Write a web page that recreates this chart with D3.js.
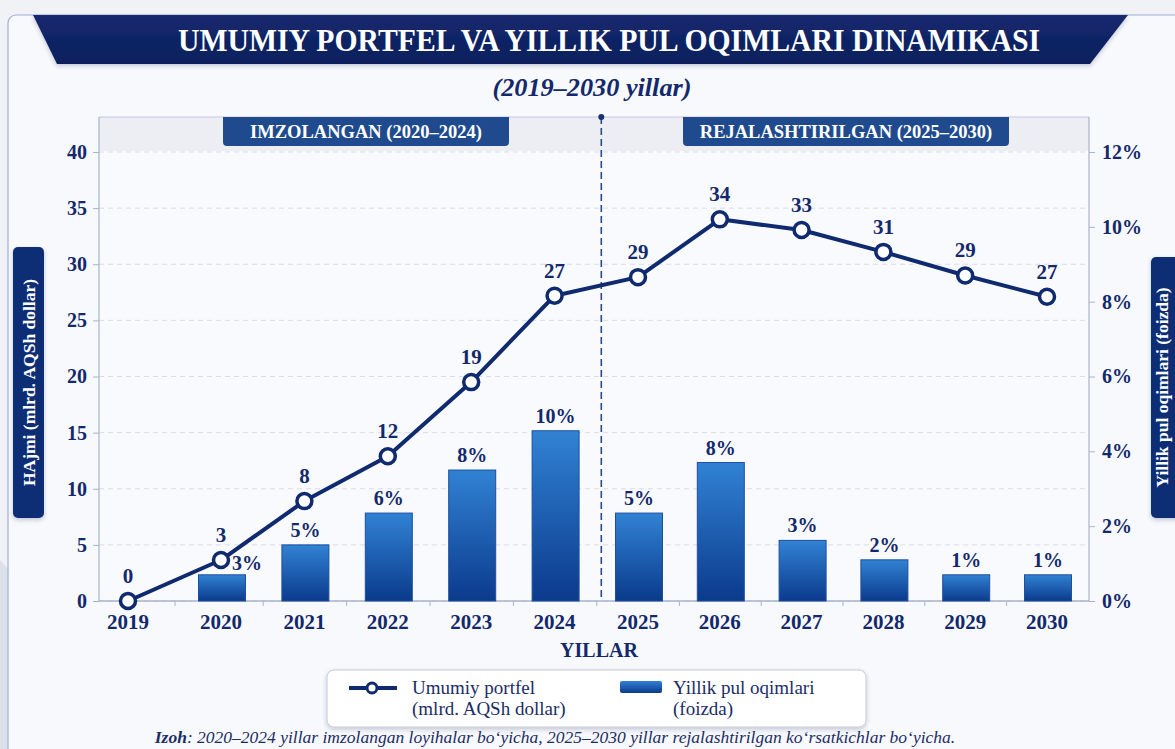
<!DOCTYPE html>
<html>
<head>
<meta charset="utf-8">
<script src="https://cdn.jsdelivr.net/npm/d3@7"></script>
<style>
  body { margin: 0; background: #f2f3f7; }
  svg { display: block; }
</style>
</head>
<body>
<div id="chart"></div>
<script>
// data
var years = [2019, 2020, 2021, 2022, 2023, 2024, 2025, 2026, 2027, 2028, 2029, 2030];
var portfolio = [0, 3.65, 8.9, 12.9, 19.5, 27.2, 28.85, 34.0, 33.05, 31.1, 29.0, 27.1];
var portfolioLabels = ["0", "3", "8", "12", "19", "27", "29", "34", "33", "31", "29", "27"];

var flowYears = [2020, 2021, 2022, 2023, 2024, 2025, 2026, 2027, 2028, 2029, 2030];
var flows = [0.7, 1.5, 2.35, 3.5, 4.55, 2.35, 3.7, 1.62, 1.1, 0.7, 0.7];
var flowLabels = ["3%", "5%", "6%", "8%", "10%", "5%", "8%", "3%", "2%", "1%", "1%"];

var leftTicks = [0, 5, 10, 15, 20, 25, 30, 35, 40];
var rightTicks = [0, 2, 4, 6, 8, 10, 12];

var svgWidth = 1175;
var svgHeight = 749;
var serif = "'Liberation Serif', 'Times New Roman', serif";
var navy = "#13296b";

var plot = { left: 99, right: 1089, top: 117, bottom: 601 };

var svg = d3.select("#chart")
    .append("svg")
    .attr("width", svgWidth)
    .attr("height", svgHeight)
    .style("font-family", serif);

var defs = svg.append("defs");

var barGrad = defs.append("linearGradient")
    .attr("id", "barGrad")
    .attr("x1", 0).attr("y1", 0).attr("x2", 0).attr("y2", 1);
barGrad.append("stop").attr("offset", "0%").attr("stop-color", "#3182d4");
barGrad.append("stop").attr("offset", "100%").attr("stop-color", "#0b3a8c");

var bannerGrad = defs.append("linearGradient")
    .attr("id", "bannerGrad")
    .attr("x1", 0).attr("y1", 0).attr("x2", 0).attr("y2", 1);
bannerGrad.append("stop").attr("offset", "0%").attr("stop-color", "#15296e");
bannerGrad.append("stop").attr("offset", "100%").attr("stop-color", "#0c1f5c");

var shadow = defs.append("filter").attr("id", "shadow")
    .attr("x", "-10%").attr("y", "-20%").attr("width", "120%").attr("height", "160%");
shadow.append("feDropShadow")
    .attr("dx", 0).attr("dy", 2).attr("stdDeviation", 2)
    .attr("flood-color", "#203060").attr("flood-opacity", 0.25);

// background decoration
svg.append("rect")
    .attr("width", svgWidth).attr("height", svgHeight)
    .attr("fill", "#f1f2f6");
svg.append("path")
    .attr("d", "M0,560 L170,749 L0,749 Z")
    .attr("fill", "#dde1ea");
svg.append("path")
    .attr("d", "M1175,600 L1040,749 L1175,749 Z")
    .attr("fill", "#dfe3eb");

// card
svg.append("rect")
    .attr("x", 8).attr("y", 15)
    .attr("width", 1190).attr("height", 780)
    .attr("rx", 8)
    .attr("fill", "#f8f9fc")
    .attr("stroke", "#9fb0d2")
    .attr("stroke-width", 1.2);

// title banner
svg.append("path")
    .attr("d", "M33,15 L1128,15 L1090,64 L57,64 Z")
    .attr("fill", "url(#bannerGrad)")
    .attr("filter", "url(#shadow)");

svg.append("text")
    .attr("x", 609).attr("y", 51)
    .attr("text-anchor", "middle")
    .attr("fill", "#ffffff")
    .attr("font-size", 31)
    .attr("font-weight", "bold")
    .attr("textLength", 862)
    .attr("lengthAdjust", "spacingAndGlyphs")
    .text("UMUMIY PORTFEL VA YILLIK PUL OQIMLARI DINAMIKASI");

svg.append("text")
    .attr("x", 592).attr("y", 96)
    .attr("text-anchor", "middle")
    .attr("fill", navy)
    .attr("font-size", 26)
    .attr("font-weight", "bold")
    .attr("font-style", "italic")
    .attr("textLength", 199)
    .attr("lengthAdjust", "spacingAndGlyphs")
    .text("(2019–2030 yillar)");

// scales
var x = d3.scaleLinear()
    .domain([2019, 2020, 2025, 2030])
    .range([128, 221, 638, 1047]);

var yLeft = d3.scaleLinear().domain([0, 40]).range([plot.bottom, 152]);
var yRight = d3.scaleLinear().domain([0, 12]).range([plot.bottom, 152]);

// plot background + header band
svg.append("rect")
    .attr("x", plot.left).attr("y", plot.top)
    .attr("width", plot.right - plot.left).attr("height", plot.bottom - plot.top)
    .attr("fill", "#f9fafd");
svg.append("rect")
    .attr("x", plot.left).attr("y", plot.top)
    .attr("width", plot.right - plot.left).attr("height", 34)
    .attr("fill", "#eceef4");
svg.append("line")
    .attr("x1", plot.left).attr("x2", plot.right)
    .attr("y1", plot.top).attr("y2", plot.top)
    .attr("stroke", "#c3cadb").attr("stroke-width", 1.2);

// grid
svg.append("g")
    .selectAll("line")
    .data(leftTicks)
    .enter()
    .append("line")
    .attr("x1", plot.left).attr("x2", plot.right)
    .attr("y1", d => yLeft(d)).attr("y2", d => yLeft(d))
    .attr("stroke", "#d9dde7")
    .attr("stroke-dasharray", "5,4")
    .attr("stroke-width", 1);

// section badges
var badges = [
    { text: "IMZOLANGAN (2020–2024)", x0: 223, x1: 509 },
    { text: "REJALASHTIRILGAN (2025–2030)", x0: 683, x1: 1009 }
];
badges.forEach(b => {
    svg.append("path")
        .attr("d", `M${b.x0},${plot.top} L${b.x1},${plot.top} L${b.x1},${plot.top + 25} Q${b.x1},${plot.top + 29} ${b.x1 - 4},${plot.top + 29} L${b.x0 + 4},${plot.top + 29} Q${b.x0},${plot.top + 29} ${b.x0},${plot.top + 25} Z`)
        .attr("fill", "#1f4b8e");
    svg.append("text")
        .attr("x", (b.x0 + b.x1) / 2).attr("y", plot.top + 21)
        .attr("text-anchor", "middle")
        .attr("fill", "#fff")
        .attr("font-size", 18.5)
        .attr("font-weight", "bold")
        .text(b.text);
});

// divider between signed and planned
var divX = x(2024.5) + 5;
svg.append("line")
    .attr("x1", divX).attr("x2", divX)
    .attr("y1", plot.top).attr("y2", plot.bottom)
    .attr("stroke", "#2a4a8c")
    .attr("stroke-width", 1.6)
    .attr("stroke-dasharray", "7,4");
svg.append("circle")
    .attr("cx", divX).attr("cy", plot.top).attr("r", 3)
    .attr("fill", "#1b3272");

// axes
var leftAxis = d3.axisLeft(yLeft).tickValues(leftTicks).tickSize(6).tickPadding(6);
var rightAxis = d3.axisRight(yRight).tickValues(rightTicks).tickSize(6).tickPadding(7)
    .tickFormat(d => d + "%");

var gl = svg.append("g")
    .attr("transform", `translate(${plot.left},0)`)
    .call(leftAxis);
var gr = svg.append("g")
    .attr("transform", `translate(${plot.right},0)`)
    .call(rightAxis);

[gl, gr].forEach(g => {
    g.select(".domain").remove();
    g.selectAll(".tick line").attr("stroke", "#a9b3cb");
    g.selectAll(".tick text")
        .attr("fill", navy)
        .attr("font-family", serif)
        .attr("font-size", 20)
        .attr("font-weight", "bold");
});

svg.append("line")
    .attr("x1", plot.left).attr("x2", plot.left)
    .attr("y1", plot.top).attr("y2", plot.bottom)
    .attr("stroke", "#a9b3cb").attr("stroke-width", 1.2);
svg.append("line")
    .attr("x1", plot.right).attr("x2", plot.right)
    .attr("y1", plot.top).attr("y2", plot.bottom)
    .attr("stroke", "#a9b3cb").attr("stroke-width", 1.2);

// x axis with ticks between years
var xAxis = d3.axisBottom(x)
    .tickValues(years.slice(1).map(d => d - 0.5))
    .tickSize(5)
    .tickFormat("");
var gx = svg.append("g")
    .attr("transform", `translate(0,${plot.bottom})`)
    .call(xAxis);
gx.select(".domain").remove();
gx.selectAll(".tick line").attr("stroke", "#a9b3cb");
svg.append("line")
    .attr("x1", plot.left).attr("x2", plot.right)
    .attr("y1", plot.bottom).attr("y2", plot.bottom)
    .attr("stroke", "#a9b3cb").attr("stroke-width", 1.5);

svg.append("g")
    .selectAll("text")
    .data(years)
    .enter()
    .append("text")
    .attr("x", d => x(d))
    .attr("y", 629)
    .attr("text-anchor", "middle")
    .attr("fill", navy)
    .attr("font-size", 21)
    .attr("font-weight", "bold")
    .text(d => d);

svg.append("text")
    .attr("x", 599).attr("y", 657)
    .attr("text-anchor", "middle")
    .attr("fill", navy)
    .attr("font-size", 20)
    .attr("font-weight", "bold")
    .text("YILLAR");

// axis title boxes
function axisBox(cx, y0, y1, w, textX, label) {
    svg.append("rect")
        .attr("x", cx - w / 2).attr("y", y0)
        .attr("width", w).attr("height", y1 - y0)
        .attr("rx", 5)
        .attr("fill", "#102d74")
        .attr("filter", "url(#shadow)");
    svg.append("text")
        .attr("transform", `translate(${textX},${(y0 + y1) / 2}) rotate(-90)`)
        .attr("text-anchor", "middle")
        .attr("fill", "#fff")
        .attr("font-size", 17.5)
        .attr("font-weight", "bold")
        .text(label);
}
axisBox(28.5, 247, 518, 31, 35, "HAjmi (mlrd. AQSh dollar)");
axisBox(1168, 257, 518, 34, 1168, "Yillik pul oqimlari (foizda)");

// bars
var barW = 47;
svg.append("g")
    .selectAll("rect")
    .data(flows)
    .enter()
    .append("rect")
    .attr("x", (d, i) => x(flowYears[i]) + 1 - barW / 2)
    .attr("y", d => yRight(d))
    .attr("width", barW)
    .attr("height", d => plot.bottom - yRight(d))
    .attr("fill", "url(#barGrad)")
    .attr("stroke", "#1d4f9e")
    .attr("stroke-width", 1);

// first label is pushed right so it clears the 2020 marker
svg.append("g")
    .selectAll("text")
    .data(flowLabels)
    .enter()
    .append("text")
    .attr("x", (d, i) => x(flowYears[i]) + 1 + (i === 0 ? 25 : 0))
    .attr("y", (d, i) => yRight(flows[i]) - (i === 0 ? 5 : 8))
    .attr("text-anchor", "middle")
    .attr("fill", navy)
    .attr("font-size", 20)
    .attr("font-weight", "bold")
    .text(d => d);

// portfolio line
var line = d3.line()
    .x((d, i) => x(years[i]))
    .y(d => yLeft(d));

svg.append("path")
    .datum(portfolio)
    .attr("d", line)
    .attr("fill", "none")
    .attr("stroke", "#0f2a6e")
    .attr("stroke-width", 4)
    .attr("stroke-linejoin", "round");

svg.append("g")
    .selectAll("circle")
    .data(portfolio)
    .enter()
    .append("circle")
    .attr("cx", (d, i) => x(years[i]))
    .attr("cy", d => yLeft(d))
    .attr("r", 7.5)
    .attr("fill", "#fff")
    .attr("stroke", "#0f2a6e")
    .attr("stroke-width", 3.5);

svg.append("g")
    .selectAll("text")
    .data(portfolioLabels)
    .enter()
    .append("text")
    .attr("x", (d, i) => x(years[i]))
    .attr("y", (d, i) => yLeft(portfolio[i]) - 18)
    .attr("text-anchor", "middle")
    .attr("fill", navy)
    .attr("font-size", 21)
    .attr("font-weight", "bold")
    .text(d => d);

// legend
var legend = svg.append("g");
legend.append("rect")
    .attr("x", 327).attr("y", 670)
    .attr("width", 539).attr("height", 57)
    .attr("rx", 7)
    .attr("fill", "#ffffff")
    .attr("stroke", "#c4cad8")
    .attr("filter", "url(#shadow)");
legend.append("line")
    .attr("x1", 349).attr("x2", 397)
    .attr("y1", 688).attr("y2", 688)
    .attr("stroke", "#0f2a6e").attr("stroke-width", 4);
legend.append("circle")
    .attr("cx", 372).attr("cy", 688).attr("r", 5)
    .attr("fill", "#fff").attr("stroke", "#0f2a6e").attr("stroke-width", 3);
legend.append("rect")
    .attr("x", 620).attr("y", 681)
    .attr("width", 42).attr("height", 12)
    .attr("rx", 2)
    .attr("fill", "url(#barGrad)");

var legendText = [
    { x: 412, lines: ["Umumiy portfel", "(mlrd. AQSh dollar)"] },
    { x: 673, lines: ["Yillik pul oqimlari", "(foizda)"] }
];
legendText.forEach(t => {
    t.lines.forEach((s, j) => {
        legend.append("text")
            .attr("x", t.x).attr("y", 694 + j * 21)
            .attr("fill", "#1b2d66")
            .attr("font-size", 19)
            .text(s);
    });
});

// footnote
var note = svg.append("text")
    .attr("x", 555).attr("y", 743)
    .attr("text-anchor", "middle")
    .attr("fill", "#1b2d66")
    .attr("font-size", 17.5)
    .attr("font-style", "italic");
note.append("tspan").attr("font-weight", "bold").text("Izoh");
note.append("tspan").text(": 2020–2024 yillar imzolangan loyihalar bo‘yicha, 2025–2030 yillar rejalashtirilgan ko‘rsatkichlar bo‘yicha.");
</script>
</body>
</html>
